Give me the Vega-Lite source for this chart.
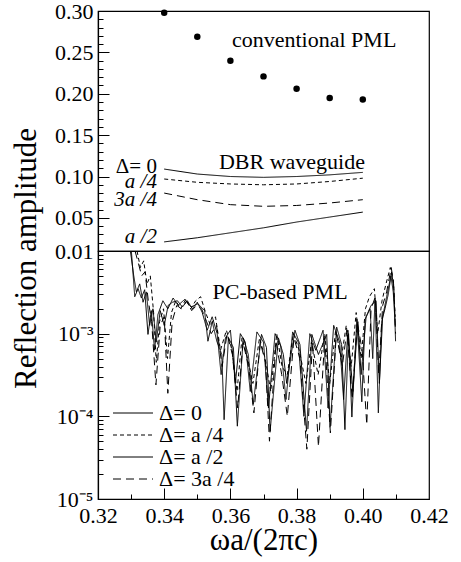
{
  "$schema": "https://vega.github.io/schema/vega-lite/v6.json",
  "autosize": {"type": "none"},
  "padding": {"left": 98, "top": 11, "right": 363, "bottom": 551},
  "background": "white",
  "spacing": 0,
  "bounds": "flush",
  "config": {
    "view": {"stroke": "black", "strokeWidth": 1.2},
    "font": "Liberation Serif",
    "axis": {
      "grid": false, "domainColor": "black", "tickColor": "black", "labelColor": "black", "titleColor": "black",
      "labelFont": "Liberation Serif", "titleFont": "Liberation Serif", "labelFontSize": 22, "titleFontSize": 31,
      "titleFontWeight": "normal", "tickWidth": 1, "domainWidth": 1.2
    },
    "legend": {"labelFont": "Liberation Serif", "labelColor": "black"}
  },
  "resolve": {"scale": {"strokeDash": "independent", "strokeWidth": "independent"}},
  "datasets": {
    "pml": [
      {"x": 0.34, "y": 0.298}, {"x": 0.35, "y": 0.269}, {"x": 0.36, "y": 0.240}, {"x": 0.37, "y": 0.221},
      {"x": 0.38, "y": 0.206}, {"x": 0.39, "y": 0.195}, {"x": 0.40, "y": 0.193}
    ],
    "dbr": [
      {"x": 0.34, "y": 0.109, "series": "Δ= 0"}, {"x": 0.35, "y": 0.103, "series": "Δ= 0"}, {"x": 0.36, "y": 0.100, "series": "Δ= 0"},
      {"x": 0.37, "y": 0.099, "series": "Δ= 0"}, {"x": 0.38, "y": 0.100, "series": "Δ= 0"}, {"x": 0.39, "y": 0.102, "series": "Δ= 0"},
      {"x": 0.40, "y": 0.105, "series": "Δ= 0"},
      {"x": 0.34, "y": 0.097, "series": "Δ= a /4"}, {"x": 0.35, "y": 0.093, "series": "Δ= a /4"}, {"x": 0.36, "y": 0.091, "series": "Δ= a /4"},
      {"x": 0.37, "y": 0.090, "series": "Δ= a /4"}, {"x": 0.38, "y": 0.091, "series": "Δ= a /4"}, {"x": 0.39, "y": 0.094, "series": "Δ= a /4"},
      {"x": 0.40, "y": 0.098, "series": "Δ= a /4"},
      {"x": 0.34, "y": 0.021, "series": "Δ= a /2"}, {"x": 0.35, "y": 0.026, "series": "Δ= a /2"}, {"x": 0.36, "y": 0.032, "series": "Δ= a /2"},
      {"x": 0.37, "y": 0.038, "series": "Δ= a /2"}, {"x": 0.38, "y": 0.045, "series": "Δ= a /2"}, {"x": 0.39, "y": 0.051, "series": "Δ= a /2"},
      {"x": 0.40, "y": 0.057, "series": "Δ= a /2"},
      {"x": 0.34, "y": 0.080, "series": "Δ= 3a /4"}, {"x": 0.35, "y": 0.072, "series": "Δ= 3a /4"}, {"x": 0.36, "y": 0.066, "series": "Δ= 3a /4"},
      {"x": 0.37, "y": 0.064, "series": "Δ= 3a /4"}, {"x": 0.38, "y": 0.065, "series": "Δ= 3a /4"}, {"x": 0.39, "y": 0.068, "series": "Δ= 3a /4"},
      {"x": 0.40, "y": 0.072, "series": "Δ= 3a /4"}
    ],
    "topNotes": [
      {"x": 0.3853, "y": 0.265, "label": "conventional PML"},
      {"x": 0.3786, "y": 0.1175, "label": "DBR waveguide"}
    ],
    "lineLabels": [
      {"x": 0.3378, "y": 0.1115, "label": "Δ= 0"},
      {"x": 0.3378, "y": 0.0934, "label": "a /4"},
      {"x": 0.3378, "y": 0.0716, "label": "3a /4"},
      {"x": 0.3378, "y": 0.0269, "label": "a /2"}
    ],
    "bottomNotes": [
      {"x": 0.375, "y": 0.0032, "label": "PC-based PML"}
    ],
    "pc": [
      {"x": 0.3298, "y": 1.0e-2, "series": "Δ= 0"}, {"x": 0.3308, "y": 5.0e-3, "series": "Δ= 0"}, {"x": 0.3316, "y": 3.2e-3, "series": "Δ= 0"},
      {"x": 0.3326, "y": 4.0e-3, "series": "Δ= 0"}, {"x": 0.3336, "y": 2.4e-3, "series": "Δ= 0"}, {"x": 0.3346, "y": 3.2e-3, "series": "Δ= 0"},
      {"x": 0.3356, "y": 1.26e-3, "series": "Δ= 0"}, {"x": 0.3366, "y": 2.0e-3, "series": "Δ= 0"}, {"x": 0.3376, "y": 7.9e-4, "series": "Δ= 0"},
      {"x": 0.3388, "y": 1.9e-3, "series": "Δ= 0"}, {"x": 0.3400, "y": 1.26e-3, "series": "Δ= 0"}, {"x": 0.3412, "y": 2.2e-3, "series": "Δ= 0"},
      {"x": 0.3425, "y": 2.4e-3, "series": "Δ= 0"}, {"x": 0.3440, "y": 2.5e-3, "series": "Δ= 0"}, {"x": 0.3455, "y": 2.1e-3, "series": "Δ= 0"},
      {"x": 0.3470, "y": 2.5e-3, "series": "Δ= 0"}, {"x": 0.3485, "y": 2.0e-3, "series": "Δ= 0"}, {"x": 0.3500, "y": 2.4e-3, "series": "Δ= 0"},
      {"x": 0.3515, "y": 1.8e-3, "series": "Δ= 0"}, {"x": 0.3530, "y": 1.1e-3, "series": "Δ= 0"}, {"x": 0.3545, "y": 1.6e-3, "series": "Δ= 0"},
      {"x": 0.3560, "y": 1.0e-3, "series": "Δ= 0"}, {"x": 0.3572, "y": 3.2e-4, "series": "Δ= 0"}, {"x": 0.3585, "y": 8.9e-4, "series": "Δ= 0"},
      {"x": 0.3600, "y": 1.1e-3, "series": "Δ= 0"}, {"x": 0.3615, "y": 2.5e-4, "series": "Δ= 0"}, {"x": 0.3630, "y": 1.0e-3, "series": "Δ= 0"},
      {"x": 0.3645, "y": 7.9e-4, "series": "Δ= 0"}, {"x": 0.3660, "y": 2.0e-4, "series": "Δ= 0"}, {"x": 0.3680, "y": 1.05e-3, "series": "Δ= 0"},
      {"x": 0.3700, "y": 7.9e-4, "series": "Δ= 0"}, {"x": 0.3715, "y": 1.26e-4, "series": "Δ= 0"}, {"x": 0.3735, "y": 1.0e-3, "series": "Δ= 0"},
      {"x": 0.3752, "y": 7.1e-4, "series": "Δ= 0"}, {"x": 0.3768, "y": 1.6e-4, "series": "Δ= 0"}, {"x": 0.3788, "y": 1.05e-3, "series": "Δ= 0"},
      {"x": 0.3805, "y": 7.9e-4, "series": "Δ= 0"}, {"x": 0.3822, "y": 1.0e-4, "series": "Δ= 0"}, {"x": 0.3840, "y": 1.0e-3, "series": "Δ= 0"},
      {"x": 0.3858, "y": 6.3e-4, "series": "Δ= 0"}, {"x": 0.3880, "y": 1.1e-3, "series": "Δ= 0"}, {"x": 0.3895, "y": 1.26e-4, "series": "Δ= 0"},
      {"x": 0.3912, "y": 1.26e-3, "series": "Δ= 0"}, {"x": 0.3930, "y": 7.9e-4, "series": "Δ= 0"}, {"x": 0.3942, "y": 1.6e-4, "series": "Δ= 0"},
      {"x": 0.3955, "y": 1.1e-3, "series": "Δ= 0"}, {"x": 0.3970, "y": 2.0e-4, "series": "Δ= 0"}, {"x": 0.3985, "y": 1.4e-3, "series": "Δ= 0"},
      {"x": 0.3995, "y": 3.2e-4, "series": "Δ= 0"}, {"x": 0.4010, "y": 1.6e-3, "series": "Δ= 0"}, {"x": 0.4025, "y": 2.2e-3, "series": "Δ= 0"},
      {"x": 0.4040, "y": 2.5e-3, "series": "Δ= 0"}, {"x": 0.4050, "y": 2.5e-4, "series": "Δ= 0"}, {"x": 0.4060, "y": 1.6e-3, "series": "Δ= 0"},
      {"x": 0.4072, "y": 2.8e-3, "series": "Δ= 0"}, {"x": 0.4085, "y": 5.0e-3, "series": "Δ= 0"}, {"x": 0.4092, "y": 3.2e-3, "series": "Δ= 0"},
      {"x": 0.4098, "y": 1.26e-3, "series": "Δ= 0"},

      {"x": 0.3318, "y": 1.0e-2, "series": "Δ= a /4"}, {"x": 0.3328, "y": 6.3e-3, "series": "Δ= a /4"}, {"x": 0.3338, "y": 7.6e-3, "series": "Δ= a /4"},
      {"x": 0.3348, "y": 4.0e-3, "series": "Δ= a /4"}, {"x": 0.3358, "y": 5.0e-3, "series": "Δ= a /4"}, {"x": 0.3368, "y": 1.8e-3, "series": "Δ= a /4"},
      {"x": 0.3376, "y": 4.5e-4, "series": "Δ= a /4"}, {"x": 0.3386, "y": 1.4e-3, "series": "Δ= a /4"}, {"x": 0.3398, "y": 2.0e-3, "series": "Δ= a /4"},
      {"x": 0.3410, "y": 5.0e-4, "series": "Δ= a /4"}, {"x": 0.3422, "y": 1.8e-3, "series": "Δ= a /4"}, {"x": 0.3435, "y": 2.5e-3, "series": "Δ= a /4"},
      {"x": 0.3450, "y": 2.0e-3, "series": "Δ= a /4"}, {"x": 0.3465, "y": 2.6e-3, "series": "Δ= a /4"}, {"x": 0.3480, "y": 2.0e-3, "series": "Δ= a /4"},
      {"x": 0.3495, "y": 2.5e-3, "series": "Δ= a /4"}, {"x": 0.3510, "y": 2.8e-3, "series": "Δ= a /4"}, {"x": 0.3525, "y": 1.8e-3, "series": "Δ= a /4"},
      {"x": 0.3540, "y": 1.26e-3, "series": "Δ= a /4"}, {"x": 0.3555, "y": 1.6e-3, "series": "Δ= a /4"}, {"x": 0.3570, "y": 6.3e-4, "series": "Δ= a /4"},
      {"x": 0.3588, "y": 1.1e-3, "series": "Δ= a /4"}, {"x": 0.3605, "y": 6.3e-4, "series": "Δ= a /4"}, {"x": 0.3620, "y": 2.0e-4, "series": "Δ= a /4"},
      {"x": 0.3635, "y": 8.9e-4, "series": "Δ= a /4"}, {"x": 0.3652, "y": 5.0e-4, "series": "Δ= a /4"}, {"x": 0.3668, "y": 2.5e-4, "series": "Δ= a /4"},
      {"x": 0.3688, "y": 8.9e-4, "series": "Δ= a /4"}, {"x": 0.3705, "y": 5.0e-4, "series": "Δ= a /4"}, {"x": 0.3722, "y": 2.0e-4, "series": "Δ= a /4"},
      {"x": 0.3740, "y": 1.0e-3, "series": "Δ= a /4"}, {"x": 0.3756, "y": 4.0e-4, "series": "Δ= a /4"}, {"x": 0.3772, "y": 3.2e-4, "series": "Δ= a /4"},
      {"x": 0.3790, "y": 1.0e-3, "series": "Δ= a /4"}, {"x": 0.3808, "y": 6.3e-4, "series": "Δ= a /4"}, {"x": 0.3828, "y": 2.5e-4, "series": "Δ= a /4"},
      {"x": 0.3845, "y": 7.9e-4, "series": "Δ= a /4"}, {"x": 0.3865, "y": 3.2e-4, "series": "Δ= a /4"}, {"x": 0.3885, "y": 1.0e-3, "series": "Δ= a /4"},
      {"x": 0.3900, "y": 2.5e-4, "series": "Δ= a /4"}, {"x": 0.3918, "y": 1.1e-3, "series": "Δ= a /4"}, {"x": 0.3935, "y": 5.0e-4, "series": "Δ= a /4"},
      {"x": 0.3950, "y": 1.26e-3, "series": "Δ= a /4"}, {"x": 0.3965, "y": 4.0e-4, "series": "Δ= a /4"}, {"x": 0.3980, "y": 1.8e-3, "series": "Δ= a /4"},
      {"x": 0.3995, "y": 5.0e-4, "series": "Δ= a /4"}, {"x": 0.4008, "y": 2.0e-3, "series": "Δ= a /4"}, {"x": 0.4020, "y": 2.8e-3, "series": "Δ= a /4"},
      {"x": 0.4035, "y": 3.5e-3, "series": "Δ= a /4"}, {"x": 0.4045, "y": 1.0e-3, "series": "Δ= a /4"}, {"x": 0.4058, "y": 2.5e-3, "series": "Δ= a /4"},
      {"x": 0.4070, "y": 4.0e-3, "series": "Δ= a /4"}, {"x": 0.4083, "y": 6.3e-3, "series": "Δ= a /4"}, {"x": 0.4092, "y": 4.5e-3, "series": "Δ= a /4"},
      {"x": 0.4098, "y": 1.6e-3, "series": "Δ= a /4"},

      {"x": 0.3301, "y": 9.8e-3, "series": "Δ= a /2"}, {"x": 0.3311, "y": 2.8e-3, "series": "Δ= a /2"}, {"x": 0.3321, "y": 3.5e-3, "series": "Δ= a /2"},
      {"x": 0.3331, "y": 2.7e-3, "series": "Δ= a /2"}, {"x": 0.3341, "y": 3.4e-3, "series": "Δ= a /2"}, {"x": 0.3351, "y": 9.8e-4, "series": "Δ= a /2"},
      {"x": 0.3361, "y": 1.9e-3, "series": "Δ= a /2"}, {"x": 0.3371, "y": 6.3e-4, "series": "Δ= a /2"}, {"x": 0.3381, "y": 1.7e-3, "series": "Δ= a /2"},
      {"x": 0.3396, "y": 2.5e-3, "series": "Δ= a /2"}, {"x": 0.3411, "y": 2.0e-3, "series": "Δ= a /2"}, {"x": 0.3427, "y": 2.7e-3, "series": "Δ= a /2"},
      {"x": 0.3442, "y": 2.2e-3, "series": "Δ= a /2"}, {"x": 0.3462, "y": 2.6e-3, "series": "Δ= a /2"}, {"x": 0.3481, "y": 2.1e-3, "series": "Δ= a /2"},
      {"x": 0.3502, "y": 2.3e-3, "series": "Δ= a /2"}, {"x": 0.3522, "y": 1.9e-3, "series": "Δ= a /2"}, {"x": 0.3532, "y": 8.1e-4, "series": "Δ= a /2"},
      {"x": 0.3545, "y": 1.4e-3, "series": "Δ= a /2"}, {"x": 0.3559, "y": 8.1e-4, "series": "Δ= a /2"}, {"x": 0.3574, "y": 5.6e-4, "series": "Δ= a /2"},
      {"x": 0.3581, "y": 9.1e-5, "series": "Δ= a /2"}, {"x": 0.3594, "y": 8.9e-4, "series": "Δ= a /2"}, {"x": 0.3609, "y": 6.8e-4, "series": "Δ= a /2"},
      {"x": 0.3621, "y": 7.6e-5, "series": "Δ= a /2"}, {"x": 0.3639, "y": 8.9e-4, "series": "Δ= a /2"}, {"x": 0.3654, "y": 5.6e-4, "series": "Δ= a /2"},
      {"x": 0.3669, "y": 1.4e-4, "series": "Δ= a /2"}, {"x": 0.3694, "y": 9.8e-4, "series": "Δ= a /2"}, {"x": 0.3709, "y": 6.8e-4, "series": "Δ= a /2"},
      {"x": 0.3720, "y": 6.6e-5, "series": "Δ= a /2"}, {"x": 0.3745, "y": 8.9e-4, "series": "Δ= a /2"}, {"x": 0.3760, "y": 5.6e-4, "series": "Δ= a /2"},
      {"x": 0.3770, "y": 2.5e-4, "series": "Δ= a /2"}, {"x": 0.3795, "y": 1.1e-3, "series": "Δ= a /2"}, {"x": 0.3810, "y": 7.4e-4, "series": "Δ= a /2"},
      {"x": 0.3830, "y": 6.6e-5, "series": "Δ= a /2"}, {"x": 0.3846, "y": 9.8e-4, "series": "Δ= a /2"}, {"x": 0.3866, "y": 5.6e-4, "series": "Δ= a /2"},
      {"x": 0.3891, "y": 9.8e-4, "series": "Δ= a /2"}, {"x": 0.3901, "y": 7.4e-5, "series": "Δ= a /2"}, {"x": 0.3921, "y": 1.2e-3, "series": "Δ= a /2"},
      {"x": 0.3936, "y": 7.4e-4, "series": "Δ= a /2"}, {"x": 0.3946, "y": 6.9e-5, "series": "Δ= a /2"}, {"x": 0.3957, "y": 1.0e-3, "series": "Δ= a /2"},
      {"x": 0.3967, "y": 9.8e-5, "series": "Δ= a /2"}, {"x": 0.3982, "y": 1.5e-3, "series": "Δ= a /2"}, {"x": 0.3997, "y": 1.5e-4, "series": "Δ= a /2"},
      {"x": 0.4007, "y": 1.5e-3, "series": "Δ= a /2"}, {"x": 0.4022, "y": 2.0e-3, "series": "Δ= a /2"}, {"x": 0.4030, "y": 5.0e-4, "series": "Δ= a /2"},
      {"x": 0.4037, "y": 2.7e-3, "series": "Δ= a /2"}, {"x": 0.4047, "y": 1.1e-4, "series": "Δ= a /2"}, {"x": 0.4057, "y": 1.4e-3, "series": "Δ= a /2"},
      {"x": 0.4067, "y": 2.0e-3, "series": "Δ= a /2"}, {"x": 0.4077, "y": 3.0e-3, "series": "Δ= a /2"}, {"x": 0.4087, "y": 5.6e-3, "series": "Δ= a /2"},
      {"x": 0.4094, "y": 3.5e-3, "series": "Δ= a /2"}, {"x": 0.4099, "y": 8.1e-4, "series": "Δ= a /2"},

      {"x": 0.3312, "y": 1.0e-2, "series": "Δ= 3a /4"}, {"x": 0.3322, "y": 7.1e-3, "series": "Δ= 3a /4"}, {"x": 0.3332, "y": 5.0e-3, "series": "Δ= 3a /4"},
      {"x": 0.3342, "y": 5.6e-3, "series": "Δ= 3a /4"}, {"x": 0.3352, "y": 2.5e-3, "series": "Δ= 3a /4"}, {"x": 0.3362, "y": 1.4e-3, "series": "Δ= 3a /4"},
      {"x": 0.3375, "y": 2.4e-4, "series": "Δ= 3a /4"}, {"x": 0.3388, "y": 1.26e-3, "series": "Δ= 3a /4"}, {"x": 0.3400, "y": 1.6e-3, "series": "Δ= 3a /4"},
      {"x": 0.3411, "y": 1.9e-4, "series": "Δ= 3a /4"}, {"x": 0.3424, "y": 1.4e-3, "series": "Δ= 3a /4"}, {"x": 0.3438, "y": 2.2e-3, "series": "Δ= 3a /4"},
      {"x": 0.3452, "y": 2.0e-3, "series": "Δ= 3a /4"}, {"x": 0.3468, "y": 2.5e-3, "series": "Δ= 3a /4"}, {"x": 0.3483, "y": 1.9e-3, "series": "Δ= 3a /4"},
      {"x": 0.3498, "y": 2.2e-3, "series": "Δ= 3a /4"}, {"x": 0.3513, "y": 2.0e-3, "series": "Δ= 3a /4"}, {"x": 0.3528, "y": 1.4e-3, "series": "Δ= 3a /4"},
      {"x": 0.3542, "y": 1.0e-3, "series": "Δ= 3a /4"}, {"x": 0.3558, "y": 1.26e-3, "series": "Δ= 3a /4"}, {"x": 0.3575, "y": 4.0e-4, "series": "Δ= 3a /4"},
      {"x": 0.3590, "y": 1.0e-3, "series": "Δ= 3a /4"}, {"x": 0.3606, "y": 5.6e-4, "series": "Δ= 3a /4"}, {"x": 0.3622, "y": 1.26e-4, "series": "Δ= 3a /4"},
      {"x": 0.3638, "y": 7.9e-4, "series": "Δ= 3a /4"}, {"x": 0.3655, "y": 4.0e-4, "series": "Δ= 3a /4"}, {"x": 0.3671, "y": 1.1e-4, "series": "Δ= 3a /4"},
      {"x": 0.3690, "y": 7.9e-4, "series": "Δ= 3a /4"}, {"x": 0.3706, "y": 4.5e-4, "series": "Δ= 3a /4"}, {"x": 0.3718, "y": 5.0e-5, "series": "Δ= 3a /4"},
      {"x": 0.3738, "y": 7.9e-4, "series": "Δ= 3a /4"}, {"x": 0.3755, "y": 3.2e-4, "series": "Δ= 3a /4"}, {"x": 0.3772, "y": 1.0e-4, "series": "Δ= 3a /4"},
      {"x": 0.3792, "y": 8.9e-4, "series": "Δ= 3a /4"}, {"x": 0.3810, "y": 5.0e-4, "series": "Δ= 3a /4"}, {"x": 0.3831, "y": 4.0e-5, "series": "Δ= 3a /4"},
      {"x": 0.3848, "y": 7.9e-4, "series": "Δ= 3a /4"}, {"x": 0.3866, "y": 4.3e-5, "series": "Δ= 3a /4"}, {"x": 0.3885, "y": 8.9e-4, "series": "Δ= 3a /4"},
      {"x": 0.3902, "y": 6.3e-5, "series": "Δ= 3a /4"}, {"x": 0.3920, "y": 1.0e-3, "series": "Δ= 3a /4"}, {"x": 0.3938, "y": 4.0e-4, "series": "Δ= 3a /4"},
      {"x": 0.3952, "y": 1.1e-3, "series": "Δ= 3a /4"}, {"x": 0.3968, "y": 1.6e-4, "series": "Δ= 3a /4"}, {"x": 0.3983, "y": 1.4e-3, "series": "Δ= 3a /4"},
      {"x": 0.3998, "y": 6.3e-4, "series": "Δ= 3a /4"}, {"x": 0.4012, "y": 7.9e-5, "series": "Δ= 3a /4"}, {"x": 0.4025, "y": 2.0e-3, "series": "Δ= 3a /4"},
      {"x": 0.4038, "y": 2.8e-3, "series": "Δ= 3a /4"}, {"x": 0.4048, "y": 3.2e-4, "series": "Δ= 3a /4"}, {"x": 0.4060, "y": 2.2e-3, "series": "Δ= 3a /4"},
      {"x": 0.4072, "y": 3.2e-3, "series": "Δ= 3a /4"}, {"x": 0.4086, "y": 6.3e-3, "series": "Δ= 3a /4"}, {"x": 0.4093, "y": 4.0e-3, "series": "Δ= 3a /4"},
      {"x": 0.4099, "y": 1.0e-3, "series": "Δ= 3a /4"}
    ]
  },
  "vconcat": [
    {
      "width": 331,
      "height": 240,
      "resolve": {"scale": {"y": "independent"}},
      "layer": [
        {
          "encoding": {
            "x": {"field": "x", "type": "quantitative", "scale": {"domain": [0.32, 0.42], "nice": false, "zero": false}, "axis": null},
            "y": {
              "field": "y", "type": "quantitative", "title": "Reflection amplitude",
              "scale": {"domain": [0.01, 0.30], "nice": false, "zero": false},
              "axis": {
                "values": [0.05, 0.10, 0.15, 0.20, 0.25, 0.30],
                "format": ".2f",
                "ticks": false,
                "labelPadding": 5,
                "titleX": -63,
                "titleY": 247,
                "titleAngle": -90,
                "titleAlign": "center",
                "titleBaseline": "alphabetic"
              }
            }
          },
          "layer": [
            {
              "data": {"name": "dbr"},
              "mark": {"type": "line", "color": "black", "clip": true},
              "encoding": {
                "strokeDash": {"field": "series", "type": "nominal", "legend": null,
                  "scale": {"domain": ["Δ= 0", "Δ= a /4", "Δ= a /2", "Δ= 3a /4"], "range": [[1, 0], [4, 3], [1, 0], [8, 5]]}},
                "strokeWidth": {"field": "series", "type": "nominal", "legend": null,
                  "scale": {"domain": ["Δ= 0", "Δ= a /4", "Δ= a /2", "Δ= 3a /4"], "range": [1, 1, 2.2, 2]}}
              }
            },
            {
              "data": {"name": "pml"},
              "mark": {"type": "circle", "color": "black", "size": 42, "opacity": 1}
            },
            {
              "data": {"name": "topNotes"},
              "mark": {"type": "text", "font": "Liberation Serif", "fontSize": 22, "color": "black", "align": "center", "baseline": "middle"},
              "encoding": {"text": {"field": "label"}}
            },
            {
              "data": {"name": "lineLabels"},
              "transform": [{"filter": "datum.label == 'Δ= 0'"}],
              "mark": {"type": "text", "font": "Liberation Serif", "fontSize": 21, "color": "black", "align": "right", "baseline": "middle"},
              "encoding": {"text": {"field": "label"}}
            },
            {
              "data": {"name": "lineLabels"},
              "transform": [{"filter": "datum.label != 'Δ= 0'"}],
              "mark": {"type": "text", "font": "Liberation Serif", "fontSize": 21, "fontStyle": "italic", "color": "black", "align": "right", "baseline": "middle"},
              "encoding": {"text": {"field": "label"}}
            }
          ]
        },
        {
          "data": {"name": "pml"},
          "mark": {"type": "point", "opacity": 0},
          "encoding": {
            "x": {"field": "x", "type": "quantitative", "scale": {"domain": [0.32, 0.42], "nice": false, "zero": false}, "axis": null},
            "y": {
              "field": "y", "type": "quantitative", "title": null,
              "scale": {"domain": [0.01, 0.30], "nice": false, "zero": false},
              "axis": {"orient": "left", "values": [0.05, 0.10, 0.15, 0.20, 0.25], "labels": false, "domain": false, "tickSize": 11, "offset": -11}
            }
          }
        },
        {
          "data": {"name": "pml"},
          "mark": {"type": "point", "opacity": 0},
          "encoding": {
            "x": {"field": "x", "type": "quantitative", "scale": {"domain": [0.32, 0.42], "nice": false, "zero": false}, "axis": null},
            "y": {
              "field": "y", "type": "quantitative", "title": null,
              "scale": {"domain": [0.01, 0.30], "nice": false, "zero": false},
              "axis": {
                "orient": "left",
                "values": [0.02, 0.03, 0.04, 0.06, 0.07, 0.08, 0.09, 0.11, 0.12, 0.13, 0.14, 0.16, 0.17, 0.18, 0.19, 0.21, 0.22, 0.23, 0.24, 0.26, 0.27, 0.28, 0.29],
                "labels": false, "domain": false, "tickSize": 5, "offset": -5
              }
            }
          }
        }
      ]
    },
    {
      "width": 331,
      "height": 248,
      "resolve": {"scale": {"x": "independent", "y": "independent"}},
      "layer": [
        {
          "encoding": {
            "x": {
              "field": "x", "type": "quantitative", "title": "ωa/(2πc)",
              "scale": {"domain": [0.32, 0.42], "nice": false, "zero": false},
              "axis": {
                "values": [0.32, 0.34, 0.36, 0.38, 0.40, 0.42],
                "format": ".2f",
                "ticks": false,
                "labelPadding": 6,
                "titlePadding": -1,
                "labelFlush": false
              }
            },
            "y": {
              "field": "y", "type": "quantitative", "title": null,
              "scale": {"type": "log", "domain": [0.00001, 0.01], "nice": false},
              "axis": {
                "values": [0.00001, 0.0001, 0.001, 0.01],
                "labelExpr": "datum.value == 0.01 ? '0.01' : datum.value == 0.001 ? '10⁻³' : datum.value == 0.0001 ? '10⁻⁴' : '10⁻⁵'",
                "ticks": false,
                "labelPadding": 5,
                "labelFlush": false
              }
            }
          },
          "layer": [
            {
              "data": {"name": "pc"},
              "mark": {"type": "line", "color": "black", "clip": true},
              "encoding": {
                "strokeDash": {"field": "series", "type": "nominal",
                  "scale": {"domain": ["Δ= 0", "Δ= a /4", "Δ= a /2", "Δ= 3a /4"], "range": [[1, 0], [4, 3], [1, 0], [8, 5]]},
                  "legend": {"orient": "none", "legendX": 24, "legendY": 151, "title": null, "symbolType": "M-2,0H2", "symbolSize": 400,
                    "symbolStrokeColor": "black", "symbolFillColor": "transparent", "labelFont": "Liberation Serif", "labelFontSize": 22, "labelOffset": 15, "rowPadding": 0, "labelLimit": 200}},
                "strokeWidth": {"field": "series", "type": "nominal",
                  "scale": {"domain": ["Δ= 0", "Δ= a /4", "Δ= a /2", "Δ= 3a /4"], "range": [1, 1, 2.2, 2]},
                  "legend": {"orient": "none", "legendX": 24, "legendY": 151, "title": null, "symbolType": "M-2,0H2", "symbolSize": 400,
                    "symbolStrokeColor": "black", "symbolFillColor": "transparent", "labelFont": "Liberation Serif", "labelFontSize": 22, "labelOffset": 15, "rowPadding": 0, "labelLimit": 200}}
              }
            },
            {
              "data": {"name": "bottomNotes"},
              "mark": {"type": "text", "font": "Liberation Serif", "fontSize": 22, "color": "black", "align": "center", "baseline": "middle"},
              "encoding": {"text": {"field": "label"}}
            }
          ]
        },
        {
          "data": {"name": "bottomNotes"},
          "mark": {"type": "point", "opacity": 0},
          "encoding": {
            "x": {
              "field": "x", "type": "quantitative", "title": null,
              "scale": {"domain": [0.32, 0.42], "nice": false, "zero": false},
              "axis": {"orient": "bottom", "values": [0.34, 0.36, 0.38, 0.40], "labels": false, "domain": false, "tickSize": 11, "offset": -11}
            },
            "y": {
              "field": "y", "type": "quantitative", "title": null,
              "scale": {"type": "log", "domain": [0.00001, 0.01], "nice": false},
              "axis": {"orient": "left", "values": [0.0001, 0.001], "labels": false, "domain": false, "tickSize": 11, "offset": -11}
            }
          }
        },
        {
          "data": {"name": "bottomNotes"},
          "mark": {"type": "point", "opacity": 0},
          "encoding": {
            "x": {
              "field": "x", "type": "quantitative", "title": null,
              "scale": {"domain": [0.32, 0.42], "nice": false, "zero": false},
              "axis": {"orient": "bottom", "values": [0.33, 0.35, 0.37, 0.39, 0.41], "labels": false, "domain": false, "tickSize": 5, "offset": -5}
            },
            "y": {
              "field": "y", "type": "quantitative", "title": null,
              "scale": {"type": "log", "domain": [0.00001, 0.01], "nice": false},
              "axis": {
                "orient": "left",
                "values": [0.00002, 0.00003, 0.00004, 0.00005, 0.00006, 0.00007, 0.00008, 0.00009, 0.0002, 0.0003, 0.0004, 0.0005, 0.0006, 0.0007, 0.0008, 0.0009, 0.002, 0.003, 0.004, 0.005, 0.006, 0.007, 0.008, 0.009],
                "labels": false, "domain": false, "tickSize": 5, "offset": -5
              }
            }
          }
        }
      ]
    }
  ]
}
